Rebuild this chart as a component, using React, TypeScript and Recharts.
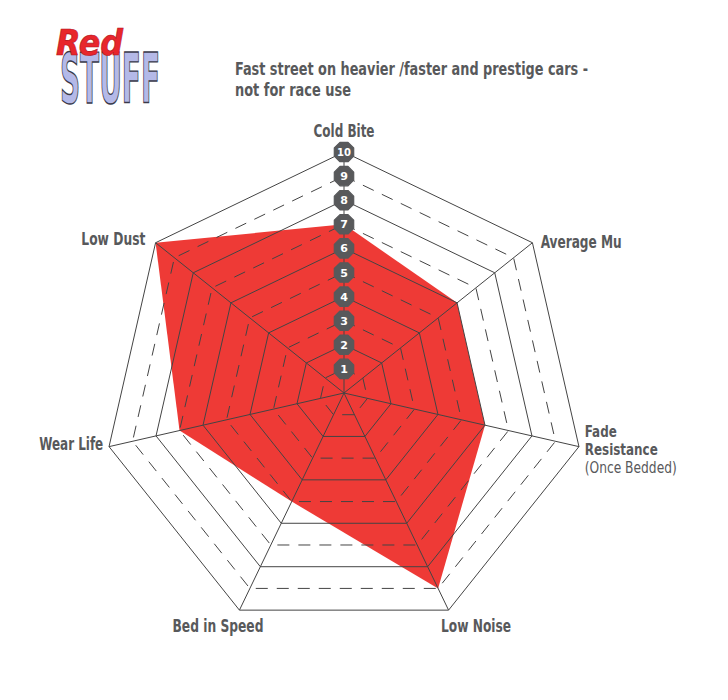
import React from 'react';
import { RadarChart, Radar, PolarGrid, PolarAngleAxis, PolarRadiusAxis } from 'recharts';

const categories = ['Cold Bite', 'Average Mu', 'Fade Resistance', 'Low Noise', 'Bed in Speed', 'Wear Life', 'Low Dust'];
const ratings = [7, 6, 6, 9, 5, 7, 10];
const scaleTicks = [1, 2, 3, 4, 5, 6, 7, 8, 9, 10];
const solidLevels = [2, 4, 6, 8, 10];
const dashedLevels = [1, 3, 5, 7, 9];
const titleLines = ['Fast street on heavier /faster and prestige cars -', 'not for race use'];

const MAX = 10;
const CX = 344;
const CY = 393;
const R = 241;

const data = categories.map((c, i) => ({ axis: c, value: ratings[i] }));

const FONT = "'DejaVu Sans Condensed', 'DejaVu Sans', sans-serif";
const GRAY = '#58595b';

const labelStyle: Record<number, { anchor: 'start' | 'middle' | 'end'; dx: number; dy: number; w: number }> = {
  0: { anchor: 'middle', dx: 0, dy: -7, w: 61 },
  1: { anchor: 'start', dx: 2, dy: 10, w: 81 },
  2: { anchor: 'start', dx: -2, dy: -11, w: 32 },
  3: { anchor: 'middle', dx: 24, dy: 15, w: 70 },
  4: { anchor: 'middle', dx: -18, dy: 15, w: 91 },
  5: { anchor: 'end', dx: 2, dy: 2, w: 64 },
  6: { anchor: 'end', dx: -4, dy: 7, w: 64 },
};

const AngleTick = (props: any) => {
  const { x, y, payload, index } = props;
  const s = labelStyle[index] || { anchor: 'middle', dx: 0, dy: 0, w: 60 };
  if (payload.value === 'Fade Resistance') {
    const lx = x + s.dx;
    return (
      <text x={lx} y={y + s.dy} textAnchor={s.anchor} fontFamily={FONT} fontSize={15} fill={GRAY}>
        <tspan x={lx} fontWeight="bold" textLength={32} lengthAdjust="spacingAndGlyphs">Fade</tspan>
        <tspan x={lx} dy={18} fontWeight="bold" textLength={73} lengthAdjust="spacingAndGlyphs">Resistance</tspan>
        <tspan x={lx} dy={18} fontWeight="normal" textLength={92} lengthAdjust="spacingAndGlyphs">(Once Bedded)</tspan>
      </text>
    );
  }
  return (
    <text x={x + s.dx} y={y + s.dy} textAnchor={s.anchor} fontWeight="bold" textLength={s.w} lengthAdjust="spacingAndGlyphs" fontFamily={FONT} fontSize={17} fill={GRAY}>
      {payload.value}
    </text>
  );
};

const Badge = (props: any) => {
  const { x, y, payload } = props;
  const r = 10.5;
  const pts: string[] = [];
  for (let i = 0; i < 8; i++) {
    const a = Math.PI / 8 + (i * Math.PI) / 4;
    pts.push(`${x + r * Math.cos(a)},${y + r * Math.sin(a)}`);
  }
  return (
    <g>
      <polygon points={pts.join(' ')} fill={GRAY} stroke={GRAY} strokeWidth={1.2} strokeLinejoin="round" />
      <text x={x} y={y + 4} textAnchor="middle" fontFamily="'DejaVu Sans', sans-serif" fontWeight="bold" fontSize={payload.value >= 10 ? 10 : 11} fill="#ffffff">
        {payload.value}
      </text>
    </g>
  );
};

const chartProps = {
  width: 728,
  height: 700,
  cx: CX,
  cy: CY,
  outerRadius: R,
  data,
  startAngle: 90,
  endAngle: -270,
  margin: { top: 0, right: 0, bottom: 0, left: 0 },
};

export default function App() {
  return (
    <div style={{ position: 'absolute', left: 0, top: 0, width: 728, height: 700, background: '#fff' }}>
      <div style={{ position: 'absolute', left: 0, top: 0 }}>
        <RadarChart {...chartProps}>
          <PolarAngleAxis dataKey="axis" tick={false} tickLine={false} axisLine={false} />
          <PolarRadiusAxis angle={90} domain={[0, MAX]} tick={false} axisLine={false} />
          <Radar dataKey="value" fill="#ee3a36" fillOpacity={1} stroke="none" isAnimationActive={false} />
        </RadarChart>
      </div>
      <div style={{ position: 'absolute', left: 0, top: 0 }}>
        <RadarChart {...chartProps}>
          <PolarGrid gridType="polygon" polarRadius={dashedLevels.map(l => (l / MAX) * R)} radialLines={false} stroke="#444" strokeDasharray="12 9" strokeWidth={1} />
          <PolarGrid gridType="polygon" polarRadius={solidLevels.map(l => (l / MAX) * R)} radialLines={true} stroke="#444" strokeWidth={1} />
          <Radar dataKey="value" fill="none" fillOpacity={0} stroke="none" isAnimationActive={false} />
          <PolarAngleAxis dataKey="axis" tick={AngleTick} tickLine={false} axisLine={false} />
          <PolarRadiusAxis angle={90} domain={[0, MAX]} ticks={scaleTicks as any} tick={Badge} axisLine={false} tickLine={false} />
        </RadarChart>
      </div>
      <svg width={728} height={130} style={{ position: 'absolute', left: 0, top: 0 }}>
        <g transform="translate(60,103) scale(1,2.05)">
          <text x={0} y={0} fontFamily="'DejaVu Sans Condensed', sans-serif" fontWeight="bold" fontSize={34} fill="#b4b9e8" stroke="#3a3a4a" strokeWidth={0.7} textLength={100} lengthAdjust="spacingAndGlyphs">STUFF</text>
        </g>
        <text x={56} y={55} fontFamily="'DejaVu Sans Condensed', sans-serif" fontWeight="bold" fontStyle="italic" fontSize={36} fill="#e8262c" stroke="#b0141a" strokeWidth={0.6} textLength={67} lengthAdjust="spacingAndGlyphs">Red</text>
        <text x={235} y={75} fontFamily={FONT} fontWeight="bold" fontSize={18} fill={GRAY}>
          {titleLines.map((t, i) => (
            <tspan key={i} x={235} dy={i === 0 ? 0 : 21} textLength={i === 0 ? 353 : 116} lengthAdjust="spacingAndGlyphs">{t}</tspan>
          ))}
        </text>
      </svg>
    </div>
  );
}
